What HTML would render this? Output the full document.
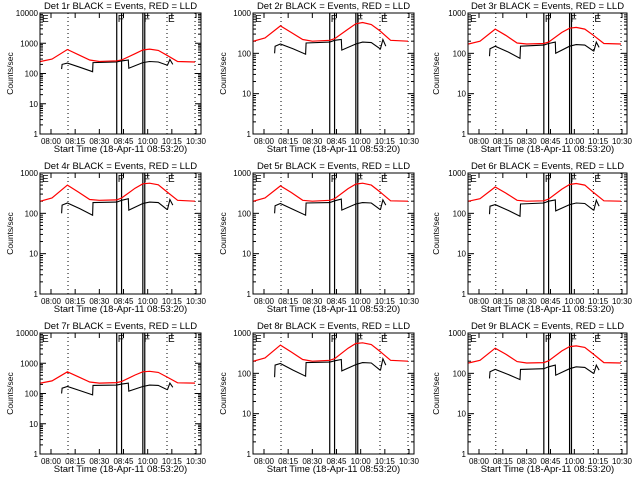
<!DOCTYPE html>
<html><head><meta charset="utf-8"><style>
html,body{margin:0;padding:0;background:#fff;}
svg{display:block;font-family:"Liberation Sans",sans-serif;}
</style></head><body>
<svg id="chart" width="640" height="480" viewBox="0 0 640 480"></svg>
<script>
const panelNames = ["Det 1r","Det 2r","Det 3r","Det 4r","Det 5r","Det 6r","Det 7r","Det 8r","Det 9r"];
const panelDecades = [4,3,3,3,3,3,4,3,3];
const xTickMinutes = [0,15,30,45,60,75,90];
const xTickShown = ["08:00","08:15","08:30","08:45","10:00","10:15","10:30"];
const redTimes = [-11,1,17,28,40,50,68,73,87,95,102,111,120,131,149];
const red1 = [250,300,620,420,280,250,260,280,450,600,640,580,400,250,240];
const red2 = [200,240,480,330,220,200,210,230,400,540,580,520,360,210,200];
const red3 = [170,200,400,280,180,170,175,190,330,420,440,400,280,175,170];
const red4 = [200,240,500,340,220,210,215,240,420,540,560,510,340,210,200];
const red5 = [200,240,480,330,210,200,210,230,410,530,560,500,340,205,200];
const red6 = [200,230,450,320,210,200,205,225,400,520,550,500,330,205,200];
const red7 = [220,260,520,360,240,220,230,250,410,520,540,500,350,225,220];
const red8 = [200,240,500,340,220,200,210,230,420,550,570,520,350,210,200];
const red9 = [180,210,420,300,195,180,185,205,360,460,480,440,300,185,180];
const blackTimes = [11,11.5,17,30,43,43.5,68,73,80,80.5,95,102,111,120,120.5,123,126];
const black1 = [140,200,220,160,115,230,240,260,280,150,230,250,240,190,190,290,200];
const black2 = [100,150,170,130,95,180,190,210,220,120,170,190,185,130,130,220,150];
const black3 = [85,130,150,110,75,150,160,175,190,100,150,165,160,115,115,190,140];
const black4 = [100,160,180,130,90,185,190,210,230,120,175,190,185,125,125,220,160];
const black5 = [100,155,175,125,90,180,185,205,225,120,170,185,180,125,125,215,160];
const black6 = [95,150,165,120,85,170,180,200,215,115,165,180,175,120,120,210,150];
const black7 = [100,150,170,125,90,185,190,205,220,120,170,190,185,135,135,220,160];
const black8 = [80,160,175,120,85,185,190,205,220,115,165,185,180,120,120,230,160];
const black9 = [75,110,125,95,70,125,130,145,160,90,130,145,140,100,100,160,120];
const reds = [red1,red2,red3,red4,red5,red6,red7,red8,red9];
const blacks = [black1,black2,black3,black4,black5,black6,black7,black8,black9];
const markerTimes = [17.6,120,149];
const barTimes = [68,73,95,97];

const svg = document.getElementById('chart');
const NS = "http://www.w3.org/2000/svg";
function mk(tag, attrs, parent){const e=document.createElementNS(NS,tag);for(const k in attrs)e.setAttribute(k,attrs[k]);(parent||svg).appendChild(e);return e;}

for (let p=0;p<9;p++){
  const col=p%3,row=Math.floor(p/3);
  const ox=col*213, oy=row*160;
  const L=ox+(col===2?42:40);
  const right = col===2 ? 627 : ox+201;
  const T=oy+13, B=oy+134;
  const dec=panelDecades[p];
  const g=mk('g',{});
  
  
  const xs=t=>L+11+(t)*((right-L-16)/150);
  const ys=v=>B-Math.log10(Math.max(v,1))*(B-T)/dec;
  const fr=mk('rect',{x:L,y:T,width:right-L,height:B-T,fill:'none',stroke:'#000','stroke-width':1},g);
  
  
  for(let d=0;d<=dec;d++){
    const y=ys(Math.pow(10,d));
    mk('line',{x1:L,x2:L+6,y1:y,y2:y,stroke:'#000'},g);
    mk('line',{x1:right-6,x2:right,y1:y,y2:y,stroke:'#000'},g);
    const lab=mk('text',{x:L-2,y:y+3,'text-anchor':'end','font-size':8},g);
    lab.textContent=String(Math.pow(10,d));
    
    
    if(d<dec){for(let m=2;m<10;m++){const ym=ys(m*Math.pow(10,d));
      mk('line',{x1:L,x2:L+3,y1:ym,y2:ym,stroke:'#000'},g);
      mk('line',{x1:right-3,x2:right,y1:ym,y2:ym,stroke:'#000'},g);}}
  }
  for(let i=0;i<xTickMinutes.length;i++){
    const x=xs(xTickMinutes[i]*(150/90));
    mk('line',{x1:x,x2:x,y1:B,y2:B-5,stroke:'#000'},g);
    mk('line',{x1:x,x2:x,y1:T,y2:T+5,stroke:'#000'},g);
    const lab=mk('text',{x:x,y:B+10,'text-anchor':'middle','font-size':8},g);
    lab.textContent=xTickShown[i];
    
    
  }
  const ti=mk('text',{x:(L+right)/2,y:oy+9,'text-anchor':'middle','font-size':9.5},g);
  ti.textContent=panelNames[p]+' BLACK = Events, RED = LLD';
  
  
  const xl=mk('text',{x:(L+right)/2,y:oy+152,'text-anchor':'middle','font-size':9.5},g);
  xl.textContent='Start Time (18-Apr-11 08:53:20)';
  
  
  const yl=mk('text',{x:0,y:0,'text-anchor':'middle','font-size':8.5,transform:`translate(${ox+13},${(T+B)/2}) rotate(-90)`},g);
  yl.textContent='Counts/sec';
  
  
  markerTimes.forEach(t=>{const x=xs(t);
    const l=mk('line',{x1:x,x2:x,y1:T,y2:B,stroke:'#000','stroke-dasharray':'1,3'},g);
    
    });
  barTimes.forEach(t=>{const x=xs(t);
    const l=mk('line',{x1:x,x2:x,y1:T,y2:B,stroke:'#000','stroke-width':1.2},g);
    
    });
  [['E',L+2],['F',xs(68)+1],['F',xs(95)+1],['E',xs(120)+1]].forEach(([s,x])=>{
    const e=mk('text',{x:x,y:T+9,'font-size':10},g);e.textContent=s;
    
    });
  const rp=reds[p].map((v,i)=>xs(redTimes[i]).toFixed(1)+','+ys(v).toFixed(1)).join(' ');
  const rl=mk('polyline',{points:rp,fill:'none',stroke:'#ff0000','stroke-width':1.2},g);
  
  
  const bp=blacks[p].map((v,i)=>xs(blackTimes[i]).toFixed(1)+','+ys(v).toFixed(1)).join(' ');
  const bl=mk('polyline',{points:bp,fill:'none',stroke:'#000','stroke-width':1.1},g);
  
  
}
</script>
</body></html>
